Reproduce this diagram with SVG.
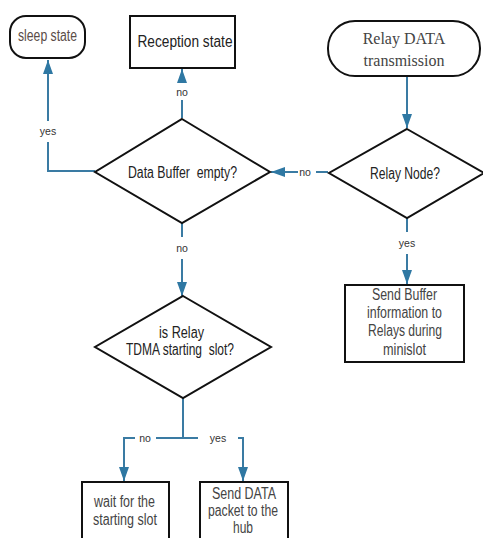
<svg xmlns="http://www.w3.org/2000/svg" width="483" height="538" viewBox="0 0 483 538">
<style>
.shape{fill:#fff;stroke:#111;stroke-width:2}
.line{fill:none;stroke:#3a7ba3;stroke-width:2}
.t{font-family:"Liberation Sans",Arial,sans-serif;font-size:16px;fill:#222;text-anchor:middle;white-space:pre}
.g{fill:#444}
.lbl{font-family:"Liberation Sans",Arial,sans-serif;font-size:10.5px;fill:#333;text-anchor:middle}
.serif{font-family:"Liberation Serif","Times New Roman",serif;font-size:16px;fill:#444;text-anchor:middle}
</style>
<defs>
<marker id="ah" viewBox="0 0 14 10" refX="14" refY="5" markerWidth="14" markerHeight="10" markerUnits="userSpaceOnUse" orient="auto">
<path d="M0,0 L14,5 L0,10 Z" fill="#2f78a3"/>
</marker>
</defs>
<rect width="483" height="538" fill="#fff"/>
<g id="connectors">
<path class="line" d="M407,77 V128" marker-end="url(#ah)"/>
<path class="line" d="M328,172 H316 M298,172 H271" marker-end="url(#ah)"/>
<path class="line" d="M182,118 V100" />
<path class="line" d="M182,82 V69" marker-end="url(#ah)"/>
<path class="line" d="M95,171 H48 V142"/>
<path class="line" d="M48,121 V60" marker-end="url(#ah)"/>
<path class="line" d="M182,223 V237"/>
<path class="line" d="M182,259 V296" marker-end="url(#ah)"/>
<path class="line" d="M407,218 V232"/>
<path class="line" d="M407,254 V284" marker-end="url(#ah)"/>
<path class="line" d="M183,398 V438 H198 M238,438 H243 V481" marker-end="url(#ah)"/>
<path class="line" d="M183,438 H156 M135,438 H124 V481" marker-end="url(#ah)"/>
<text class="lbl" x="305" y="176">no</text>
<text class="lbl" x="182" y="96">no</text>
<text class="lbl" x="48" y="135">yes</text>
<text class="lbl" x="182" y="252">no</text>
<text class="lbl" x="407" y="247">yes</text>
<text class="lbl" x="145" y="442">no</text>
<text class="lbl" x="218" y="442">yes</text>
</g>
<g id="sleep">
<rect class="shape" x="10" y="16" width="75" height="42" rx="16"/>
<text class="t" x="47.5" y="41" textLength="59" lengthAdjust="spacingAndGlyphs" style="fill:#5a4c47">sleep state</text>
</g>
<g id="reception">
<rect class="shape" x="130" y="16" width="105" height="52"/>
<text class="t" x="185" y="47" textLength="95" lengthAdjust="spacingAndGlyphs">Reception state</text>
</g>
<g id="relay-data">
<rect class="shape" x="328" y="21" width="152" height="55" rx="27"/>
<text class="serif" x="404" y="44">Relay DATA</text>
<text class="serif" x="404" y="66">transmission</text>
</g>
<g id="relay-node">
<path class="shape" d="M407,129 L484,173 L407,218 L329,173 Z"/>
<text class="t" x="405" y="179" textLength="70" lengthAdjust="spacingAndGlyphs">Relay Node?</text>
</g>
<g id="data-buffer">
<path class="shape" d="M182,119 L270,172 L182,223 L95,172 Z"/>
<text class="t" x="182.5" y="178" textLength="109" lengthAdjust="spacingAndGlyphs">Data Buffer  empty?</text>
</g>
<g id="send-buffer">
<rect class="shape" x="345" y="285" width="119" height="77"/>
<text class="t g" x="404.5" y="300" textLength="65" lengthAdjust="spacingAndGlyphs">Send Buffer</text>
<text class="t g" x="404.5" y="318" textLength="75" lengthAdjust="spacingAndGlyphs">information to</text>
<text class="t g" x="405" y="336" textLength="74" lengthAdjust="spacingAndGlyphs">Relays during</text>
<text class="t g" x="404.5" y="355" textLength="43" lengthAdjust="spacingAndGlyphs">minislot</text>
</g>
<g id="tdma">
<path class="shape" d="M183,296 L271,347 L183,398 L95,347 Z"/>
<text class="t" x="181.5" y="338" textLength="45" lengthAdjust="spacingAndGlyphs">is Relay</text>
<text class="t" x="180" y="355" textLength="108" lengthAdjust="spacingAndGlyphs">TDMA starting  slot?</text>
</g>
<g id="wait">
<rect class="shape" x="82" y="482" width="87" height="60"/>
<text class="t g" x="124.5" y="507" textLength="61" lengthAdjust="spacingAndGlyphs">wait for the</text>
<text class="t g" x="125" y="525" textLength="64" lengthAdjust="spacingAndGlyphs">starting slot</text>
</g>
<g id="send-data">
<rect class="shape" x="200" y="482" width="88" height="60"/>
<text class="t g" x="244" y="499" textLength="64" lengthAdjust="spacingAndGlyphs">Send DATA</text>
<text class="t g" x="243" y="516" textLength="70" lengthAdjust="spacingAndGlyphs">packet to the</text>
<text class="t g" x="243" y="533" textLength="20" lengthAdjust="spacingAndGlyphs">hub</text>
</g>
</svg>
